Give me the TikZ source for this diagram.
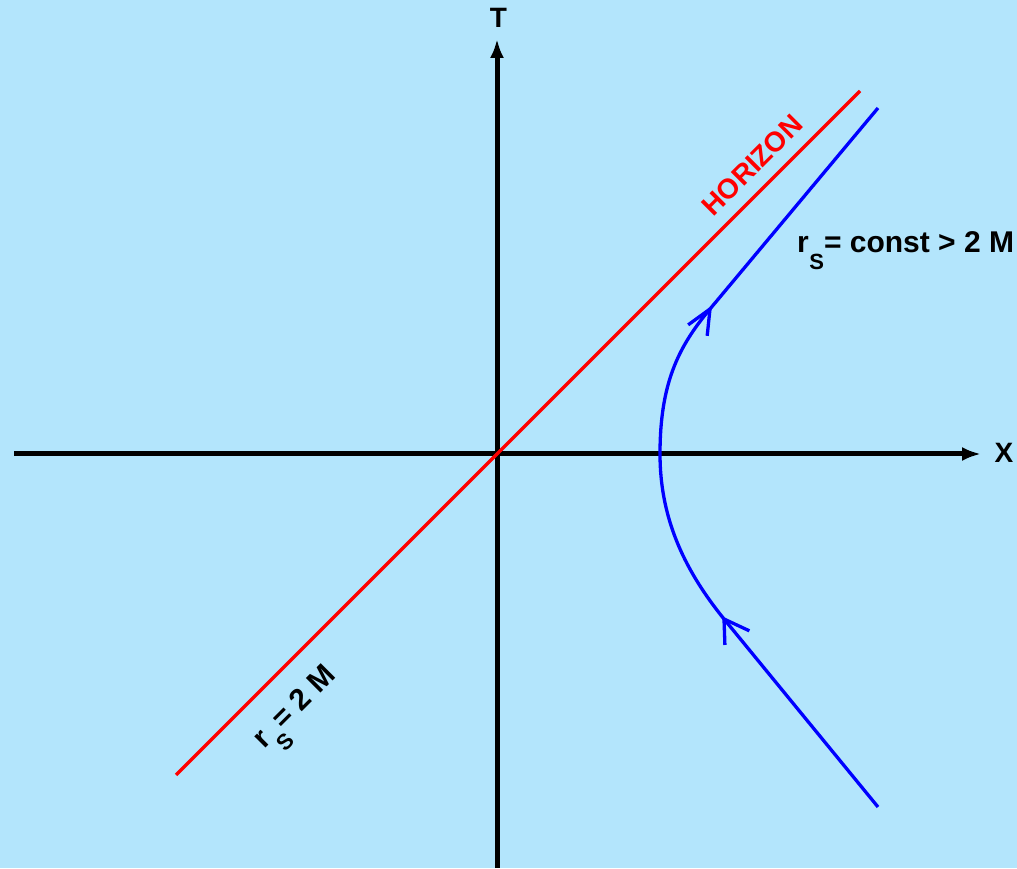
\documentclass[tikz,border=0pt]{standalone}
\usepackage{fontspec}
\setmainfont{Liberation Sans}
\usetikzlibrary{arrows.meta}
\definecolor{bgblue}{RGB}{179,229,252}
\newcommand\lblfont{\fontsize{28}{30}\selectfont\bfseries}
\newcommand\biglblfont{\fontsize{30}{32}\selectfont\bfseries}
\newcommand\subS{\kern0.5pt\raisebox{-17pt}{\fontsize{22}{22}\selectfont S}}
\begin{document}
\begin{tikzpicture}[x=1pt,y=1pt,
  axis/.style={line width=5pt,-{Latex[length=19pt,width=14pt]}},
  horizonline/.style={red,line width=3.2pt},
  worldline/.style={blue,line width=3.3pt},
  barb/.style={blue,line width=3.3pt},
  lbl/.style={inner sep=0pt,font=\lblfont},
  biglbl/.style={inner sep=0pt,font=\biglblfont}]
\fill[bgblue] (0,0) rectangle (1017,868);
\useasboundingbox (0,0) rectangle (1017,868);
% coordinates
\coordinate (O) at (497,414);
\coordinate (xl) at (14,414);
\coordinate (xr) at (981,414);
\coordinate (tb) at (497,0);
\coordinate (tt) at (497,829);
\coordinate (hl) at (176,93);
\coordinate (hu) at (860,777);
\coordinate (ptop) at (878,760);
\coordinate (tipU) at (710,559);
\coordinate (V) at (660,414);
\coordinate (tipL) at (724,249);
\coordinate (pbot) at (878,61);
% axes
\draw[axis] (xl) -- (xr);
\draw[axis] (tb) -- (tt);
\node[lbl] (X) at (1004,415) {X};
\node[lbl] (T) at (498.5,850) {T};
% horizon
\draw[horizonline] (hl) -- (hu);
\node[lbl,red,rotate=45,anchor=base] (hor) at (759,696) {HORIZON};
\node[biglbl,rotate=45,anchor=base] (rs2) at (301,155) {r\subS= 2 M};
% world line
\draw[worldline] (pbot) -- (tipL)
  .. controls (681,302) and (660,354) .. (V)
  .. controls (660,484) and (678,521) .. (tipU) -- (ptop);
\draw[barb] (tipU) -- ++(216:27);
\draw[barb] (tipU) -- ++(264:27);
\draw[barb] (tipL) -- ++(-25:28);
\draw[barb] (tipL) -- ++(-88:26);
\node[biglbl,anchor=base west] (rs) at (797,615) {r\subS= const > 2 M};
\end{tikzpicture}
\end{document}
